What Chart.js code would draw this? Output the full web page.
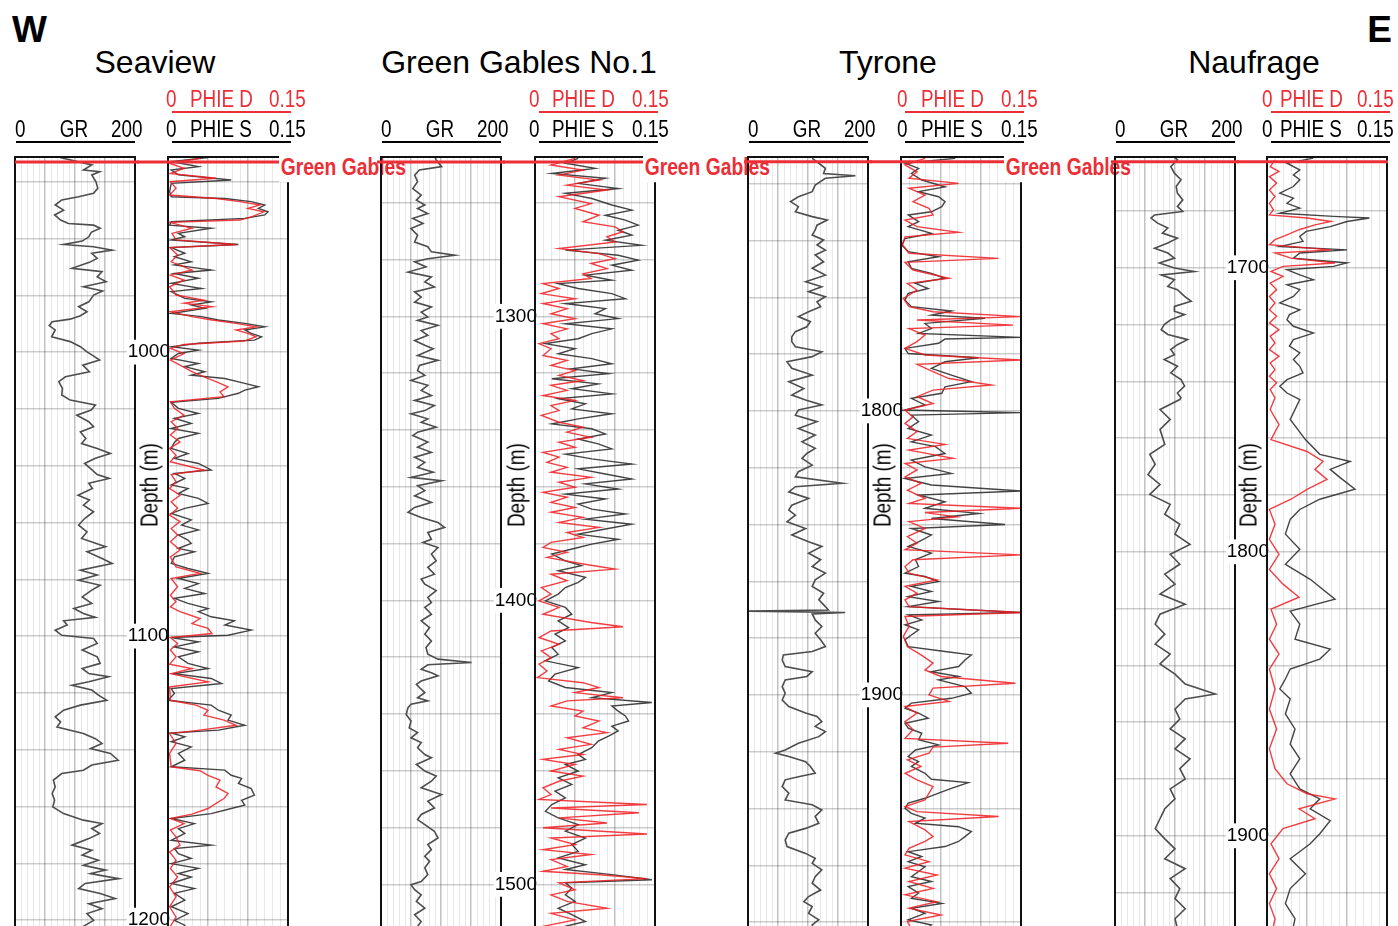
<!DOCTYPE html>
<html>
<head>
<meta charset="utf-8">
<script src="https://cdn.jsdelivr.net/npm/chart.js@4.4.1/dist/chart.umd.min.js"></script>
<style>
  html, body { margin: 0; padding: 0; background: #fff; }
  #page { position: relative; width: 1398px; height: 926px; overflow: hidden; font-family: "Liberation Sans", Arial, sans-serif; }
  #page canvas { position: absolute; }
  .txt { position: absolute; line-height: 1; white-space: nowrap; }
  .rule { position: absolute; height: 2px; }
</style>
</head>
<body>
<div id="page"></div>
<script>
// well names, W -> E
const wellNames = ['Seaview', 'Green Gables No.1', 'Tyrone', 'Naufrage'];
// depth at the top of each track (m) and the visible depth span
const depthTop = [931.3, 1243.9, 1710.6, 1661.0];
const depthSpan = 275.7;
// Green Gables formation top (m) in each well
const greenGablesTop = [933.1, 1245.7, 1712.3, 1662.7];
const formationName = 'Green Gables';

// curve scales + header labels
const grRange = [0, 200];
const phieRange = [0, 0.15];
const grHeader = ['0', 'GR', '200'];
const phieSHeader = ['0', 'PHIE S', '0.15'];
const phieDHeader = ['0', 'PHIE D', '0.15'];

// -------------------- curves: [depth m, value] -------------------- //
const seaviewGR = [[931.5,75],[934.1,128],[935.9,114],[936.5,141],[937.6,128],[940.0,135],[942.3,138],[944.1,131],[945.3,106],[946.4,78],[948.2,67],[950.0,81],[951.7,66],[953.5,76],[954.7,89],[955.3,131],[956.4,142],[957.8,127],[959.4,123],[960.9,112],[962.1,81],[962.9,131],[964.1,162],[965.2,128],[967.0,137],[968.4,124],[970.5,95],[971.7,145],[973.5,137],[975.2,152],[977.0,114],[978.5,146],[979.9,131],[982.3,123],[984.0,106],[985.8,120],[987.2,109],[988.4,92],[989.3,62],[990.7,57],[992.2,67],[994.6,61],[996.3,92],[998.1,109],[999.9,120],[1001.0,128],[1002.8,141],[1004.6,113],[1006.9,124],[1008.7,84],[1010.4,73],[1012.8,79],[1015.1,78],[1016.9,92],[1018.6,134],[1020.4,127],[1022.2,103],[1024.5,123],[1026.3,131],[1028.1,109],[1030.4,118],[1032.2,111],[1033.9,137],[1035.7,159],[1037.4,134],[1039.2,116],[1041.0,126],[1043.1,137],[1044.5,157],[1046.2,123],[1048.0,129],[1050.4,105],[1052.1,124],[1053.9,114],[1056.2,131],[1058.6,116],[1060.9,106],[1063.3,120],[1065.6,111],[1068.5,151],[1070.3,120],[1072.7,145],[1074.4,162],[1076.8,109],[1078.5,137],[1080.3,106],[1082.1,142],[1083.8,128],[1086.2,112],[1088.5,128],[1090.3,98],[1092.0,114],[1093.4,134],[1094.6,81],[1096.1,87],[1097.9,67],[1099.7,78],[1100.8,131],[1102.6,137],[1104.9,112],[1107.3,137],[1109.6,142],[1111.4,112],[1113.2,123],[1114.3,156],[1116.1,123],[1117.3,95],[1119.0,128],[1120.8,139],[1122.6,153],[1124.3,109],[1126.1,81],[1128.4,67],[1130.2,76],[1132.0,70],[1134.3,114],[1136.1,134],[1137.8,145],[1139.6,126],[1141.3,159],[1143.7,172],[1145.4,128],[1147.2,114],[1148.4,78],[1150.7,64],[1153.1,67],[1155.4,62],[1157.8,66],[1160.1,63],[1162.5,81],[1164.8,114],[1166.0,145],[1167.8,128],[1169.5,141],[1171.3,123],[1173.6,95],[1175.4,128],[1177.1,112],[1178.9,139],[1180.7,114],[1182.4,151],[1183.6,126],[1185.4,173],[1187.1,117],[1188.9,106],[1190.6,142],[1192.4,167],[1194.2,123],[1196.0,145],[1197.7,120],[1200.1,131],[1202.2,114],[1207,120]];
const seaviewPhieS = [[931.5,0.050],[932.9,0.004],[934.7,0.038],[935.9,0.004],[937.6,0.013],[939.4,0.079],[940.6,0.004],[943.5,0.002],[945.3,0.004],[945.9,0.071],[947.0,0.104],[948.2,0.121],[949.4,0.113],[950.6,0.125],[951.7,0.121],[952.9,0.096],[954.1,0.004],[955.3,0.002],[956.4,0.054],[958.2,0.013],[959.4,0.021],[960.5,0.004],[962.1,0.088],[963.2,0.004],[965.2,0.021],[966.4,0.008],[968.2,0.029],[969.3,0.008],[971.1,0.054],[972.3,0.008],[974.0,0.038],[975.8,0.004],[977.6,0.042],[978.7,0.004],[981.1,0.021],[982.3,0.054],[983.4,0.029],[984.6,0.046],[986.4,0.004],[987.5,0.042],[988.7,0.063],[989.9,0.096],[991.1,0.121],[992.2,0.096],[993.4,0.104],[994.6,0.117],[995.8,0.108],[996.9,0.038],[998.1,0.004],[999.3,0.038],[1000.5,0.013],[1002.2,0.004],[1004.0,0.038],[1005.1,0.021],[1006.9,0.046],[1008.1,0.029],[1009.3,0.071],[1011.0,0.096],[1012.2,0.113],[1013.4,0.096],[1014.5,0.088],[1016.3,0.063],[1017.7,0.004],[1019.8,0.013],[1021.6,0.038],[1023.3,0.008],[1025.1,0.029],[1026.9,0.004],[1028.6,0.038],[1030.4,0.013],[1031.8,0.008],[1033.9,0.004],[1035.7,0.025],[1037.4,0.008],[1039.2,0.038],[1041.5,0.054],[1042.7,0.008],[1044.5,0.021],[1046.8,0.004],[1048.0,0.025],[1049.8,0.013],[1051.5,0.038],[1053.3,0.050],[1055.0,0.021],[1056.8,0.004],[1059.1,0.029],[1060.9,0.017],[1062.6,0.038],[1064.4,0.013],[1066.2,0.025],[1067.4,0.029],[1069.1,0.013],[1070.3,0.033],[1072.1,0.008],[1074.4,0.004],[1076.2,0.025],[1077.9,0.050],[1079.7,0.013],[1081.5,0.038],[1083.2,0.021],[1085.0,0.046],[1086.7,0.008],[1088.5,0.025],[1090.3,0.050],[1091.4,0.038],[1093.2,0.054],[1094.6,0.083],[1096.1,0.071],[1097.9,0.104],[1099.7,0.075],[1100.5,0.004],[1102.0,0.038],[1103.8,0.008],[1105.5,0.038],[1107.3,0.013],[1109.6,0.025],[1111.4,0.050],[1113.2,0.008],[1114.9,0.054],[1116.7,0.067],[1118.5,0.004],[1120.2,0.008],[1122.6,0.000],[1124.3,0.054],[1126.1,0.063],[1127.8,0.079],[1129.6,0.075],[1131.4,0.096],[1133.1,0.063],[1134.1,0.004],[1135.5,0.021],[1137.2,0.004],[1139.0,0.029],[1141.3,0.013],[1143.7,0.021],[1146.0,0.004],[1147.2,0.071],[1149.0,0.079],[1150.1,0.092],[1151.9,0.088],[1153.7,0.104],[1156.0,0.108],[1157.8,0.092],[1159.5,0.096],[1160.7,0.079],[1162.5,0.054],[1164.2,0.004],[1166.0,0.033],[1167.8,0.013],[1169.5,0.021],[1171.9,0.004],[1173.6,0.054],[1174.8,0.008],[1176.6,0.013],[1178.3,0.029],[1180.1,0.004],[1181.8,0.038],[1183.6,0.013],[1184.8,0.029],[1187.1,0.004],[1188.9,0.033],[1190.6,0.008],[1193.0,0.021],[1195.3,0.004],[1197.7,0.025],[1200.1,0.008],[1201.8,0.021],[1207,0.010]];
const seaviewPhieD = [[931.8,0.04],[933.5,0.002],[935.3,0.02],[937.1,0.003],[938.8,0.06],[940.0,0.003],[942.3,0.01],[944.7,0.002],[945.9,0.06],[947.0,0.09],[948.2,0.115],[949.4,0.10],[950.6,0.12],[952.3,0.105],[953.5,0.09],[954.3,0.002],[956.4,0.03],[958.2,0.005],[960.5,0.01],[962.1,0.085],[963.2,0.002],[965.8,0.012],[968.2,0.004],[971.1,0.03],[972.9,0.003],[974.6,0.02],[977.0,0.002],[979.9,0.01],[981.7,0.045],[982.8,0.02],[984.0,0.055],[985.8,0.003],[987.5,0.03],[988.7,0.055],[989.9,0.085],[991.1,0.11],[992.2,0.085],[993.4,0.10],[994.6,0.11],[996.1,0.095],[997.3,0.02],[998.7,0.003],[1000.5,0.02],[1002.8,0.003],[1004.6,0.015],[1006.9,0.03],[1008.7,0.045],[1010.4,0.06],[1012.2,0.075],[1014.0,0.065],[1015.7,0.07],[1017.5,0.003],[1019.8,0.008],[1022.2,0.02],[1024.5,0.004],[1026.9,0.012],[1029.2,0.003],[1031.6,0.015],[1033.9,0.002],[1036.3,0.01],[1038.6,0.003],[1041.5,0.045],[1043.1,0.004],[1045.6,0.01],[1048.0,0.002],[1050.4,0.015],[1052.7,0.004],[1055.0,0.012],[1057.4,0.002],[1059.7,0.015],[1062.1,0.004],[1064.4,0.012],[1066.8,0.003],[1069.7,0.015],[1072.1,0.003],[1075.6,0.01],[1077.9,0.04],[1079.7,0.004],[1082.6,0.012],[1085.6,0.003],[1087.9,0.01],[1089.7,0.003],[1091.4,0.015],[1093.8,0.04],[1095.6,0.03],[1097.3,0.05],[1099.1,0.055],[1100.5,0.003],[1102.6,0.012],[1104.9,0.003],[1107.3,0.01],[1109.9,0.002],[1111.4,0.03],[1113.2,0.004],[1116.1,0.05],[1117.9,0.002],[1122.6,0.003],[1124.3,0.035],[1126.1,0.05],[1127.8,0.045],[1129.6,0.07],[1131.4,0.085],[1133.1,0.04],[1134.3,0.002],[1137.8,0.01],[1141.3,0.002],[1146.0,0.004],[1147.4,0.04],[1149.0,0.05],[1150.7,0.065],[1153.1,0.06],[1155.4,0.075],[1157.2,0.07],[1158.9,0.06],[1160.7,0.05],[1162.7,0.03],[1164.2,0.003],[1166.0,0.02],[1168.3,0.003],[1170.7,0.01],[1173.6,0.015],[1176.0,0.002],[1178.9,0.01],[1181.8,0.003],[1184.8,0.012],[1188.3,0.002],[1191.8,0.01],[1195.3,0.002],[1198.9,0.01],[1202.2,0.003],[1207,0.005]];

const greenGablesGR = [[1243.9,90],[1245.0,92],[1247.3,101],[1248.5,64],[1250.3,56],[1252.6,61],[1255.0,53],[1257.3,67],[1259.1,59],[1260.8,73],[1262.0,61],[1263.8,78],[1265.5,53],[1267.3,70],[1269.1,50],[1271.4,61],[1273.8,56],[1275.5,78],[1277.3,84],[1278.5,123],[1279.7,78],[1280.8,56],[1282.6,75],[1284.4,45],[1286.1,84],[1287.9,73],[1289.7,89],[1291.4,56],[1293.2,67],[1295.0,56],[1296.7,84],[1298.5,67],[1300.2,78],[1301.4,61],[1303.2,95],[1305.0,67],[1306.7,78],[1308.5,56],[1310.2,73],[1311.4,87],[1313.8,61],[1315.5,95],[1317.3,64],[1319.1,61],[1320.8,73],[1322.6,50],[1324.3,78],[1326.1,67],[1327.9,84],[1329.6,56],[1331.4,89],[1333.2,73],[1334.3,50],[1336.1,78],[1337.3,67],[1339.0,92],[1340.8,61],[1342.0,53],[1344.3,78],[1346.1,61],[1347.9,84],[1349.6,56],[1351.4,73],[1353.2,61],[1354.9,87],[1356.7,50],[1357.9,101],[1359.6,61],[1361.4,73],[1363.2,56],[1365.5,84],[1367.3,56],[1369.0,45],[1370.8,67],[1372.6,95],[1374.3,106],[1376.1,78],[1378.5,84],[1379.6,70],[1381.4,95],[1383.7,84],[1386.1,92],[1388.4,78],[1390.8,89],[1392.5,67],[1394.3,73],[1396.6,92],[1399.0,78],[1400.8,84],[1402.5,73],[1404.9,84],[1407.2,67],[1409.6,81],[1411.9,73],[1414.3,84],[1416.6,75],[1419.0,78],[1420.7,95],[1421.9,151],[1422.7,78],[1424.3,67],[1425.5,84],[1426.6,95],[1428.4,67],[1429.6,59],[1430.7,64],[1432.5,73],[1434.3,61],[1435.4,78],[1436.6,50],[1437.8,45],[1440.2,42],[1442.5,50],[1444.9,47],[1446.6,61],[1448.4,50],[1450.1,67],[1451.9,61],[1454.3,73],[1455.4,84],[1457.8,59],[1460.1,73],[1461.9,92],[1463.7,84],[1466.0,67],[1468.4,101],[1470.7,78],[1473.1,89],[1475.4,67],[1477.2,61],[1479.0,73],[1481.3,89],[1483.7,95],[1486.0,78],[1487.8,84],[1490.1,73],[1491.9,81],[1494.2,73],[1496.6,78],[1499.0,67],[1500.1,50],[1501.9,56],[1503.7,67],[1506.0,59],[1508.4,73],[1510.7,56],[1513.1,67],[1514.8,61],[1520,64]];
const greenGablesPhieS = [[1244.4,0.054],[1246.1,0.038],[1247.9,0.075],[1249.7,0.021],[1251.4,0.088],[1253.2,0.054],[1255.0,0.104],[1256.7,0.038],[1258.5,0.071],[1260.8,0.096],[1262.6,0.121],[1264.4,0.088],[1266.1,0.113],[1267.9,0.129],[1269.7,0.104],[1271.4,0.121],[1273.2,0.088],[1275.0,0.133],[1276.7,0.038],[1278.5,0.104],[1280.2,0.129],[1282.0,0.096],[1283.8,0.121],[1285.5,0.063],[1287.3,0.096],[1288.5,0.029],[1290.2,0.054],[1292.0,0.096],[1293.8,0.113],[1295.5,0.038],[1297.3,0.088],[1299.1,0.075],[1300.8,0.104],[1302.6,0.038],[1304.4,0.096],[1306.1,0.071],[1307.9,0.054],[1309.6,0.013],[1311.4,0.050],[1313.2,0.029],[1314.9,0.071],[1316.7,0.096],[1318.5,0.046],[1320.2,0.092],[1322.0,0.021],[1323.8,0.079],[1325.5,0.046],[1327.3,0.096],[1329.0,0.029],[1330.8,0.063],[1332.6,0.046],[1334.3,0.096],[1336.1,0.054],[1337.9,0.021],[1339.6,0.071],[1341.4,0.088],[1343.2,0.054],[1344.9,0.079],[1346.7,0.096],[1348.5,0.038],[1350.2,0.071],[1352.0,0.121],[1353.7,0.054],[1355.5,0.088],[1357.3,0.121],[1359.0,0.063],[1360.8,0.104],[1362.6,0.038],[1364.3,0.088],[1366.1,0.054],[1367.9,0.071],[1369.6,0.113],[1371.4,0.063],[1373.2,0.121],[1374.9,0.088],[1376.7,0.054],[1378.5,0.104],[1380.2,0.071],[1381.4,0.054],[1383.7,0.021],[1386.1,0.038],[1387.8,0.058],[1389.6,0.029],[1391.9,0.063],[1393.7,0.054],[1395.5,0.038],[1397.8,0.029],[1400.2,0.013],[1402.5,0.038],[1404.9,0.046],[1407.2,0.029],[1409.6,0.042],[1411.9,0.025],[1414.3,0.038],[1416.6,0.021],[1419.0,0.029],[1421.3,0.013],[1423.7,0.054],[1426.0,0.025],[1428.4,0.017],[1430.7,0.038],[1432.5,0.096],[1434.3,0.071],[1436.0,0.146],[1437.2,0.096],[1439.0,0.104],[1440.7,0.113],[1442.5,0.117],[1444.3,0.096],[1446.0,0.104],[1447.8,0.092],[1449.6,0.079],[1451.9,0.071],[1454.3,0.054],[1456.0,0.063],[1457.8,0.038],[1460.1,0.054],[1462.5,0.029],[1464.8,0.046],[1467.2,0.025],[1469.6,0.038],[1471.9,0.021],[1474.3,0.013],[1476.6,0.029],[1479.0,0.054],[1481.3,0.038],[1483.7,0.063],[1486.0,0.046],[1488.4,0.054],[1490.7,0.029],[1493.1,0.063],[1494.8,0.038],[1496.6,0.096],[1498.4,0.146],[1499.5,0.038],[1501.3,0.046],[1503.7,0.038],[1506.0,0.050],[1508.4,0.029],[1510.7,0.046],[1513.1,0.063],[1514.8,0.038],[1520,0.045]];
const greenGablesPhieD = [[1244.4,0.05],[1246.7,0.02],[1248.5,0.06],[1250.3,0.03],[1252.0,0.08],[1253.8,0.04],[1255.5,0.09],[1257.9,0.03],[1260.3,0.07],[1262.0,0.05],[1264.4,0.08],[1266.7,0.06],[1268.5,0.10],[1270.2,0.11],[1272.0,0.09],[1273.8,0.10],[1276.1,0.03],[1277.9,0.08],[1279.7,0.10],[1281.4,0.07],[1283.2,0.09],[1285.0,0.06],[1286.7,0.07],[1288.5,0.01],[1290.2,0.03],[1292.0,0.008],[1293.8,0.05],[1295.5,0.01],[1297.3,0.04],[1299.1,0.02],[1300.8,0.05],[1302.6,0.01],[1304.4,0.04],[1306.1,0.02],[1307.9,0.03],[1309.6,0.005],[1311.4,0.02],[1313.8,0.01],[1315.5,0.04],[1317.3,0.02],[1319.1,0.05],[1320.8,0.03],[1322.6,0.06],[1324.3,0.02],[1326.1,0.04],[1327.9,0.01],[1329.6,0.05],[1331.4,0.02],[1333.2,0.03],[1334.9,0.008],[1337.3,0.03],[1339.0,0.06],[1340.8,0.04],[1342.6,0.07],[1344.3,0.03],[1346.1,0.05],[1347.9,0.01],[1349.6,0.03],[1351.4,0.015],[1353.2,0.04],[1354.9,0.02],[1356.7,0.07],[1358.4,0.03],[1360.2,0.05],[1362.0,0.01],[1363.7,0.04],[1365.5,0.02],[1367.3,0.05],[1369.0,0.02],[1370.8,0.06],[1372.6,0.03],[1374.3,0.08],[1376.1,0.04],[1377.9,0.06],[1379.6,0.02],[1381.4,0.01],[1383.1,0.04],[1384.9,0.015],[1387.2,0.06],[1389.0,0.10],[1390.8,0.02],[1393.1,0.04],[1395.5,0.008],[1397.8,0.02],[1400.2,0.005],[1402.5,0.03],[1404.9,0.01],[1407.8,0.07],[1409.3,0.11],[1410.8,0.02],[1413.1,0.005],[1415.5,0.03],[1417.8,0.008],[1420.2,0.02],[1422.5,0.005],[1424.9,0.015],[1427.2,0.003],[1429.0,0.06],[1430.7,0.08],[1432.5,0.05],[1434.3,0.11],[1435.4,0.04],[1437.2,0.02],[1439.0,0.06],[1440.7,0.05],[1442.5,0.08],[1444.9,0.06],[1446.6,0.09],[1448.4,0.04],[1450.7,0.07],[1452.5,0.03],[1454.3,0.06],[1456.0,0.01],[1457.8,0.05],[1460.1,0.02],[1461.9,0.06],[1463.7,0.03],[1466.0,0.01],[1468.4,0.02],[1470.1,0.005],[1471.9,0.14],[1473.1,0.02],[1474.8,0.13],[1476.6,0.03],[1478.4,0.09],[1480.1,0.01],[1482.3,0.14],[1483.7,0.02],[1486.0,0.05],[1487.8,0.01],[1489.5,0.07],[1491.3,0.02],[1493.7,0.04],[1495.4,0.01],[1496.6,0.08],[1498.0,0.14],[1499.5,0.03],[1501.9,0.05],[1503.7,0.02],[1506.0,0.04],[1508.4,0.09],[1510.2,0.02],[1512.5,0.05],[1514.8,0.01],[1520,0.03]];

const tyroneGR = [[1711.1,107],[1712.8,118],[1714.6,129],[1716.4,126],[1717.2,179],[1718.1,129],[1720.5,112],[1722.8,107],[1724.6,84],[1726.3,71],[1728.1,84],[1729.9,79],[1731.6,107],[1732.8,132],[1734.6,115],[1736.3,112],[1738.1,107],[1739.8,126],[1741.6,115],[1743.4,129],[1745.1,112],[1747.5,126],[1749.8,107],[1752.2,129],[1754.5,96],[1756.3,123],[1758.0,101],[1759.8,129],[1761.6,115],[1763.3,121],[1765.1,101],[1766.8,84],[1768.6,104],[1770.4,98],[1772.1,79],[1773.9,73],[1775.6,73],[1777.4,79],[1779.2,123],[1780.9,107],[1782.7,65],[1785.0,73],[1787.4,107],[1789.7,68],[1792.1,93],[1794.4,73],[1796.2,96],[1797.9,123],[1799.7,84],[1801.5,79],[1803.8,115],[1806.2,84],[1808.5,112],[1810.9,90],[1813.2,112],[1815.0,98],[1816.7,90],[1819.1,107],[1821.4,84],[1823.2,79],[1825.5,157],[1826.7,79],[1828.5,68],[1830.8,101],[1833.2,73],[1834.9,68],[1836.7,79],[1839.0,65],[1841.4,96],[1843.7,73],[1846.1,101],[1847.7,123],[1850.1,101],[1852.4,121],[1854.8,107],[1857.1,129],[1859.5,112],[1861.8,107],[1864.2,126],[1866.5,118],[1868.9,129],[1870.1,134],[1870.5,1],[1871.0,162],[1871.5,107],[1873.6,112],[1875.9,123],[1878.3,112],[1880.6,121],[1883.0,129],[1884.7,107],[1885.9,59],[1887.7,57],[1890.0,62],[1891.8,107],[1893.5,98],[1894.7,62],[1897.1,57],[1899.4,62],[1901.8,57],[1904.1,68],[1906.4,96],[1907.6,115],[1909.4,123],[1911.1,112],[1912.9,129],[1914.7,118],[1917.0,84],[1919.4,62],[1920.5,46],[1921.7,68],[1923.5,96],[1925.2,104],[1927.6,112],[1928.8,84],[1929.9,62],[1932.3,57],[1934.6,68],[1937.0,62],[1938.7,107],[1940.5,123],[1942.8,112],[1945.2,118],[1947.0,96],[1948.7,68],[1951.1,62],[1953.4,65],[1955.8,96],[1957.5,112],[1959.3,107],[1961.6,123],[1964.0,112],[1966.3,107],[1968.7,121],[1971.0,101],[1972.8,93],[1974.5,107],[1976.9,101],[1979.2,118],[1981.0,107],[1986,112]];
const tyronePhieS = [[1711.1,0.068],[1712.8,0.005],[1714.6,0.022],[1716.4,0.013],[1718.7,0.026],[1721.1,0.055],[1722.8,0.022],[1724.6,0.047],[1726.3,0.055],[1728.1,0.051],[1729.9,0.038],[1731.0,0.009],[1733.4,0.022],[1735.1,0.009],[1737.5,0.038],[1739.3,0.005],[1741.6,0.001],[1743.9,0.009],[1745.7,0.047],[1747.5,0.009],[1749.8,0.013],[1751.6,0.038],[1753.3,0.055],[1755.1,0.018],[1756.9,0.034],[1758.6,0.009],[1761.0,0.005],[1763.3,0.013],[1764.8,0.063],[1766.3,0.038],[1767.4,0.105],[1769.2,0.030],[1771.0,0.038],[1772.7,0.022],[1774.1,0.150],[1774.7,0.055],[1776.2,0.047],[1778.0,0.005],[1779.8,0.009],[1781.3,0.097],[1782.7,0.055],[1785.0,0.038],[1787.4,0.063],[1789.7,0.088],[1791.5,0.055],[1793.8,0.051],[1795.6,0.013],[1797.9,0.030],[1799.7,0.005],[1800.6,0.150],[1801.5,0.013],[1803.8,0.022],[1806.2,0.009],[1808.5,0.038],[1810.9,0.013],[1812.6,0.043],[1815.0,0.055],[1817.3,0.013],[1819.7,0.030],[1822.0,0.063],[1823.8,0.005],[1826.1,0.038],[1828.2,0.150],[1829.6,0.022],[1832.0,0.055],[1834.3,0.030],[1836.1,0.097],[1837.9,0.038],[1840.0,0.130],[1841.4,0.013],[1843.7,0.038],[1846.1,0.022],[1847.7,0.009],[1850.1,0.038],[1852.4,0.018],[1854.8,0.022],[1857.1,0.005],[1858.3,0.030],[1860.1,0.047],[1861.8,0.013],[1863.6,0.038],[1865.4,0.009],[1867.1,0.047],[1868.9,0.009],[1871.0,0.150],[1871.8,0.009],[1873.6,0.026],[1875.3,0.005],[1877.1,0.022],[1878.9,0.013],[1880.6,0.005],[1883.0,0.009],[1884.7,0.055],[1885.9,0.088],[1887.7,0.080],[1890.0,0.072],[1891.8,0.038],[1893.5,0.072],[1894.7,0.047],[1897.1,0.080],[1899.4,0.088],[1901.2,0.063],[1902.9,0.013],[1904.7,0.005],[1906.4,0.022],[1908.2,0.034],[1910.0,0.005],[1911.7,0.009],[1913.5,0.026],[1915.8,0.022],[1917.6,0.047],[1919.4,0.018],[1921.7,0.009],[1923.5,0.022],[1925.2,0.013],[1927.6,0.030],[1929.7,0.038],[1930.9,0.084],[1932.9,0.063],[1934.6,0.047],[1936.4,0.030],[1938.1,0.009],[1939.9,0.005],[1941.7,0.013],[1943.4,0.030],[1945.2,0.018],[1946.4,0.072],[1948.1,0.088],[1949.9,0.080],[1951.6,0.072],[1953.4,0.055],[1955.2,0.009],[1956.9,0.026],[1958.7,0.009],[1960.5,0.030],[1962.2,0.022],[1964.0,0.013],[1965.7,0.038],[1967.5,0.009],[1969.8,0.022],[1971.6,0.013],[1973.4,0.051],[1975.1,0.013],[1976.9,0.030],[1979.2,0.009],[1981.0,0.038],[1986,0.015]];
const tyronePhieD = [[1711.1,0.03],[1713.4,0.005],[1715.8,0.02],[1718.1,0.01],[1719.9,0.072],[1721.6,0.01],[1724.0,0.03],[1726.3,0.015],[1728.7,0.035],[1731.0,0.04],[1732.8,0.005],[1735.1,0.02],[1737.1,0.072],[1738.7,0.005],[1741.6,0.002],[1744.5,0.01],[1746.3,0.122],[1747.7,0.005],[1750.4,0.015],[1753.3,0.06],[1755.1,0.008],[1757.5,0.02],[1760.4,0.003],[1763.3,0.01],[1765.1,0.04],[1766.8,0.15],[1768.0,0.02],[1769.8,0.14],[1771.0,0.01],[1773.3,0.03],[1775.6,0.02],[1778.0,0.005],[1780.3,0.03],[1782.1,0.15],[1783.6,0.02],[1786.2,0.04],[1788.6,0.06],[1790.9,0.113],[1792.7,0.04],[1795.0,0.02],[1797.4,0.04],[1799.7,0.005],[1802.1,0.015],[1804.4,0.005],[1807.3,0.02],[1809.7,0.008],[1811.8,0.055],[1813.8,0.01],[1816.7,0.065],[1818.5,0.005],[1820.8,0.02],[1823.2,0.005],[1825.5,0.025],[1827.9,0.008],[1830.8,0.03],[1832.6,0.01],[1834.3,0.15],[1835.8,0.03],[1837.3,0.07],[1839.0,0.01],[1841.4,0.03],[1844.3,0.008],[1846.6,0.02],[1848.9,0.005],[1850.7,0.15],[1852.4,0.015],[1854.8,0.005],[1857.1,0.01],[1859.5,0.045],[1861.8,0.005],[1864.2,0.02],[1866.5,0.005],[1868.9,0.01],[1871.0,0.15],[1872.4,0.005],[1875.9,0.01],[1879.4,0.003],[1883.0,0.008],[1885.9,0.025],[1888.8,0.04],[1891.2,0.03],[1893.5,0.05],[1895.9,0.143],[1897.6,0.04],[1900.0,0.035],[1902.3,0.06],[1904.1,0.005],[1906.4,0.02],[1909.4,0.005],[1912.3,0.015],[1915.3,0.005],[1917.0,0.134],[1918.4,0.04],[1920.5,0.035],[1922.9,0.008],[1925.2,0.025],[1927.6,0.005],[1929.9,0.02],[1932.3,0.04],[1934.6,0.035],[1937.0,0.03],[1939.3,0.005],[1941.1,0.02],[1942.8,0.122],[1944.6,0.01],[1947.5,0.03],[1949.9,0.04],[1951.6,0.03],[1954.0,0.01],[1956.3,0.005],[1958.7,0.035],[1961.0,0.005],[1963.4,0.045],[1965.7,0.01],[1968.1,0.04],[1970.4,0.005],[1972.8,0.045],[1975.1,0.01],[1977.5,0.05],[1979.8,0.008],[1986,0.02]];

const naufrageGR = [[1661.2,100],[1662.0,104],[1664.4,93],[1666.7,99],[1669.0,110],[1671.4,102],[1673.7,104],[1676.1,113],[1678.4,104],[1680.2,113],[1681.4,66],[1682.5,60],[1684.3,71],[1686.0,88],[1687.8,79],[1689.6,104],[1691.3,88],[1693.1,66],[1694.8,88],[1696.6,99],[1698.3,74],[1700.1,99],[1701.3,132],[1702.5,77],[1704.2,99],[1706.6,88],[1707.7,104],[1710.1,116],[1711.8,127],[1713.6,99],[1715.3,99],[1716.5,116],[1718.3,93],[1720.0,82],[1721.8,77],[1723.5,88],[1725.3,121],[1727.1,104],[1728.8,93],[1730.6,99],[1732.3,82],[1734.7,104],[1737.0,93],[1739.4,110],[1741.7,116],[1744.1,104],[1745.8,110],[1746.4,108],[1749.9,75],[1753.4,92],[1756.9,75],[1762.2,83],[1765.7,58],[1769.2,67],[1772.8,55],[1776.3,75],[1779.8,58],[1783.3,92],[1786.8,83],[1790.3,108],[1793.8,100],[1797.4,125],[1800.9,92],[1804.4,108],[1807.9,83],[1811.4,100],[1814.9,75],[1818.5,117],[1822.0,75],[1825.5,67],[1829.0,83],[1832.5,67],[1836.0,92],[1839.5,75],[1843.1,100],[1846.6,117],[1850.1,167],[1851.8,117],[1855.4,100],[1858.9,108],[1862.4,92],[1865.9,117],[1869.4,100],[1872.9,125],[1876.4,108],[1880.0,117],[1883.5,92],[1887.0,100],[1890.5,83],[1894.0,75],[1897.5,67],[1901.1,83],[1904.6,100],[1908.1,83],[1911.6,117],[1915.1,92],[1918.6,108],[1922.1,100],[1925.7,117],[1929.2,100],[1936,108]];
const naufragePhieS = [[1661.4,0.058],[1663.2,0.025],[1665.5,0.041],[1667.3,0.033],[1669.0,0.041],[1671.4,0.033],[1673.7,0.016],[1675.5,0.033],[1677.3,0.025],[1679.0,0.041],[1680.8,0.016],[1681.9,0.083],[1682.5,0.128],[1683.7,0.100],[1685.5,0.079],[1687.2,0.049],[1689.0,0.041],[1690.7,0.045],[1692.5,0.016],[1693.7,0.100],[1694.8,0.041],[1696.6,0.033],[1698.3,0.100],[1699.5,0.083],[1700.7,0.025],[1702.5,0.041],[1704.2,0.058],[1706.0,0.025],[1707.7,0.041],[1710.1,0.033],[1712.4,0.016],[1714.8,0.041],[1716.5,0.028],[1718.3,0.025],[1720.6,0.033],[1723.0,0.058],[1725.3,0.033],[1727.6,0.028],[1730.0,0.041],[1732.3,0.033],[1734.7,0.041],[1737.0,0.045],[1739.4,0.025],[1741.7,0.016],[1744.1,0.025],[1746.4,0.041],[1753.4,0.029],[1760.5,0.048],[1765.7,0.066],[1768.2,0.104],[1771.0,0.079],[1773.8,0.091],[1778.0,0.110],[1781.5,0.066],[1785.1,0.041],[1788.6,0.029],[1793.8,0.023],[1799.1,0.041],[1804.4,0.023],[1809.7,0.054],[1816.7,0.085],[1820.9,0.029],[1825.5,0.041],[1830.8,0.035],[1834.3,0.079],[1837.8,0.066],[1841.3,0.029],[1844.8,0.023],[1848.3,0.016],[1851.8,0.029],[1857.1,0.023],[1862.4,0.035],[1867.7,0.029],[1872.9,0.041],[1878.2,0.029],[1883.5,0.041],[1887.0,0.066],[1890.5,0.054],[1894.7,0.079],[1899.3,0.066],[1902.8,0.054],[1908.1,0.029],[1913.4,0.048],[1918.6,0.029],[1923.9,0.023],[1929.2,0.035],[1936,0.03]];
const naufragePhieD = [[1662.0,0.01],[1664.4,0.004],[1666.1,0.015],[1667.9,0.003],[1670.2,0.012],[1672.6,0.003],[1674.9,0.01],[1677.3,0.003],[1679.6,0.008],[1681.4,0.003],[1682.5,0.05],[1683.7,0.08],[1684.9,0.06],[1686.6,0.04],[1688.4,0.025],[1690.1,0.01],[1691.9,0.003],[1693.7,0.08],[1694.8,0.01],[1696.6,0.03],[1698.3,0.085],[1699.5,0.02],[1701.3,0.005],[1703.0,0.02],[1705.4,0.004],[1707.7,0.012],[1710.1,0.003],[1712.4,0.01],[1714.8,0.003],[1717.1,0.012],[1719.4,0.003],[1721.8,0.015],[1724.1,0.004],[1726.5,0.01],[1728.8,0.003],[1731.2,0.015],[1733.5,0.004],[1735.9,0.01],[1738.2,0.003],[1740.5,0.012],[1742.9,0.004],[1745.8,0.01],[1749.9,0.004],[1755.2,0.015],[1760.5,0.005],[1764.7,0.05],[1768.2,0.07],[1771.0,0.06],[1774.5,0.075],[1778.0,0.05],[1781.5,0.03],[1785.1,0.003],[1790.3,0.01],[1795.6,0.003],[1800.9,0.015],[1806.2,0.003],[1811.4,0.02],[1816.0,0.04],[1820.2,0.005],[1825.5,0.012],[1830.8,0.003],[1836.0,0.015],[1841.3,0.003],[1848.3,0.01],[1855.4,0.003],[1862.4,0.012],[1869.4,0.003],[1876.4,0.01],[1881.7,0.025],[1885.2,0.05],[1887.0,0.085],[1890.5,0.04],[1894.0,0.06],[1897.5,0.02],[1902.8,0.005],[1908.1,0.015],[1913.4,0.003],[1918.6,0.012],[1923.9,0.003],[1929.2,0.01],[1936,0.005]];

const grCurves = [seaviewGR, greenGablesGR, tyroneGR, naufrageGR];
const phieSCurves = [seaviewPhieS, greenGablesPhieS, tyronePhieS, naufragePhieS];
const phieDCurves = [seaviewPhieD, greenGablesPhieD, tyronePhieD, naufragePhieD];

// -------------------- layout (page pixels) -------------------- //
const grLeft = [15, 381, 748, 1115];
const phLeft = [168, 535, 901, 1267];
const titleX = [155, 519, 888, 1254];
const labelX = [279, 643, 1004];
// PHIE header: left "0", start of the curve name, right edge of "0.15" (relative to track)
const phHdrL = [-2, -6, -4, -5];
const phHdrMid = [22, 17, 20, 13];
const phHdrR = [138, 134, 137, 127];
const trackW = 120, trackTop = 157, trackBottom = 940, canvasTop = 138;

const RED = '#ec2f36';
const page = document.getElementById('page');

/// true when the named font is really installed (compares against the fallback width)
function fontAvailable(family) {
	const c = document.createElement('canvas').getContext('2d');
	c.font = '40px monospace';
	const w = c.measureText('1000 PHIE S').width;
	c.font = '40px "' + family + '", monospace';
	return c.measureText('1000 PHIE S').width !== w;
}
const narrowOk = fontAvailable('Liberation Sans Narrow');
const NARROW = narrowOk ? '"Liberation Sans Narrow", "Arial Narrow", sans-serif' : '"Liberation Sans", Arial, sans-serif';
const squeeze = narrowOk ? 1 : 0.82;
const depthFontSize = narrowOk ? 23 : 19;

function textWidth(text, font) {
	const c = document.createElement('canvas').getContext('2d');
	c.font = font;
	return c.measureText(text).width;
}
const depthLabelW = textWidth('1000', depthFontSize + 'px ' + NARROW);

/// absolutely placed text, y is the vertical centre
function addText(text, x, y, o) {
	const d = document.createElement('div');
	d.className = 'txt';
	d.textContent = text;
	d.style.fontSize = o.size + 'px';
	d.style.fontFamily = o.family || NARROW;
	d.style.fontWeight = o.bold ? 'bold' : 'normal';
	d.style.color = o.color || '#000';
	if (o.bg) { d.style.background = o.bg; d.style.padding = '2px 2px'; }
	const sx = o.scale || 1;
	const rot = o.rotate ? ' rotate(' + o.rotate + 'deg)' : '';
	d.style.top = y + 'px';
	if (o.align === 'right') {
		d.style.right = (1398 - x) + 'px';
		d.style.transformOrigin = 'right center';
		d.style.transform = 'translateY(-50%) scaleX(' + sx + ')';
	} else if (o.align === 'center') {
		d.style.left = x + 'px';
		d.style.transformOrigin = 'center center';
		d.style.transform = 'translate(-50%,-50%)' + rot + ' scaleX(' + sx + ')';
	} else {
		d.style.left = x + 'px';
		d.style.transformOrigin = 'left center';
		d.style.transform = 'translateY(-50%) scaleX(' + sx + ')';
	}
	page.appendChild(d);
	return d;
}

function addRule(x0, x1, y, color) {
	const r = document.createElement('div');
	r.className = 'rule';
	r.style.left = x0 + 'px';
	r.style.width = (x1 - x0) + 'px';
	r.style.top = (y - 1) + 'px';
	r.style.background = color;
	page.appendChild(r);
}

// frame round the track + the formation top line running across the gaps
const trackFrame = {
	id: 'trackFrame',
	afterDatasetsDraw(chart, args, opts) {
		const { ctx, chartArea: a } = chart;
		ctx.save();
		ctx.strokeStyle = '#111';
		ctx.lineWidth = 2;
		ctx.strokeRect(a.left, a.top, a.right - a.left, a.bottom - a.top);
		const y = chart.scales.y.getPixelForValue(opts.top);
		ctx.strokeStyle = RED;
		ctx.lineWidth = 3;
		ctx.beginPath();
		ctx.moveTo(a.left - opts.extLeft, y);
		ctx.lineTo(a.right + opts.extRight, y);
		ctx.stroke();
		ctx.restore();
	}
};

function makeCanvas(left, width) {
	const c = document.createElement('canvas');
	c.width = width;
	c.height = trackBottom + 14 - canvasTop;
	c.style.left = left + 'px';
	c.style.top = canvasTop + 'px';
	page.appendChild(c);
	return c;
}

function depthAxis(i) {
	return {
		type: 'linear', reverse: true, min: depthTop[i], max: depthTop[i] + depthSpan,
		border: { display: false },
		ticks: { display: false, stepSize: 20, includeBounds: false },
		grid: { drawTicks: false, color: 'rgba(0,0,0,0.2)', lineWidth: 1.5 }
	};
}

function valueAxis(range, step, isMajor) {
	return {
		type: 'linear', position: 'top', min: range[0], max: range[1],
		border: { display: false },
		ticks: { display: false, stepSize: step, includeBounds: false },
		grid: {
			drawTicks: false,
			color: c => isMajor(c.tick.value) ? 'rgba(0,0,0,0.24)' : 'rgba(0,0,0,0.09)',
			lineWidth: c => isMajor(c.tick.value) ? 1.5 : 1
		}
	};
}

function trackChart(canvas, padding, datasets, scales, frame) {
	return new Chart(canvas, {
		type: 'line',
		data: { datasets: datasets },
		options: {
			responsive: false,
			animation: false,
			devicePixelRatio: 1,
			indexAxis: 'y',
			events: [],
			layout: { padding: padding },
			elements: { point: { radius: 0 }, line: { tension: 0 } },
			plugins: { legend: { display: false }, tooltip: { enabled: false }, trackFrame: frame },
			scales: scales
		},
		plugins: [trackFrame]
	});
}

function toPoints(curve) { return curve.map(p => ({ x: p[1], y: p[0] })); }

// -------------------- build the four wells -------------------- //
for (let i = 0; i < wellNames.length; i++) {
	const padTop = trackTop - canvasTop, padBottom = 14;

	// GR track
	const grExtL = i === 0 ? 0 : 4;
	const grCanvas = makeCanvas(grLeft[i] - 4, trackW + 8);
	trackChart(grCanvas, { left: 4, right: 4, top: padTop, bottom: padBottom }, [{
		data: toPoints(grCurves[i]), borderColor: '#4d4d4d', borderWidth: 1.6
	}], {
		x: valueAxis(grRange, 10, v => v % 50 === 0),
		y: depthAxis(i)
	}, { top: greenGablesTop[i], extLeft: grExtL, extRight: 4 });

	// PHIE track, carries the depth labels on its left edge (mirrored so they are not clipped)
	const padL = 48;
	const extL = phLeft[i] - (grLeft[i] + trackW + 4) + 2;
	const extR = i < wellNames.length - 1 ? grLeft[i + 1] - 4 - (phLeft[i] + trackW) : 1;
	const phCanvas = makeCanvas(phLeft[i] - padL, padL + trackW + extR + 2);
	trackChart(phCanvas, { left: padL, right: extR + 2, top: padTop, bottom: padBottom }, [
		{ data: toPoints(phieDCurves[i]), borderColor: 'rgba(240,28,34,0.85)', borderWidth: 1.4 },
		{ data: toPoints(phieSCurves[i]), borderColor: 'rgba(35,35,35,0.85)', borderWidth: 1.4 }
	], {
		x: valueAxis(phieRange, 0.01, v => Math.round(v * 100) % 5 === 0),
		y: depthAxis(i),
		yDepth: {
			type: 'linear', position: 'left', reverse: true, min: depthTop[i], max: depthTop[i] + depthSpan,
			border: { display: false },
			grid: { display: false, drawTicks: false },
			ticks: {
				stepSize: 100, includeBounds: false, mirror: true, padding: 2 - depthLabelW,
				color: '#000', font: { family: NARROW, size: depthFontSize },
				callback: v => String(v),
				showLabelBackdrop: true, backdropColor: '#fff',
				backdropPadding: { top: 1, bottom: 1, left: 1, right: 0 }
			},
			afterFit: s => { s.width = 0; }
		}
	}, { top: greenGablesTop[i], extLeft: extL, extRight: extR });

	// headers
	addText(wellNames[i], titleX[i], 62, { size: 32, align: 'center', family: '"Liberation Sans", Arial, sans-serif' });
	const g = grLeft[i], p = phLeft[i];
	addText(grHeader[0], g, 129, { size: 23, scale: squeeze });
	addText(grHeader[1], g + 59, 129, { size: 23, align: 'center', scale: squeeze });
	addText(grHeader[2], g + 127, 129, { size: 23, align: 'right', scale: squeeze });
	addRule(g + 1, g + trackW, 142, '#000');

	addText(phieDHeader[0], p + phHdrL[i], 99, { size: 23, color: RED, scale: squeeze });
	addText(phieDHeader[1], p + phHdrMid[i], 99, { size: 23, color: RED, scale: squeeze });
	addText(phieDHeader[2], p + phHdrR[i], 99, { size: 23, color: RED, align: 'right', scale: squeeze });
	addRule(p + 4, p + 123, 112, RED);

	addText(phieSHeader[0], p + phHdrL[i], 129, { size: 23, scale: squeeze });
	addText(phieSHeader[1], p + phHdrMid[i], 129, { size: 23, scale: squeeze });
	addText(phieSHeader[2], p + phHdrR[i], 129, { size: 23, align: 'right', scale: squeeze });
	addRule(p + 4, p + 123, 142, '#000');

	addText('Depth (m)', p - 18, 485, { size: 23, align: 'center', rotate: -90, scale: squeeze });

	if (i < labelX.length) {
		addText(formationName, labelX[i], 168, { size: 23.5, bold: true, color: RED, bg: '#fff', scale: squeeze });
	}
}

addText('W', 12, 29, { size: 37, bold: true, family: '"Liberation Sans", Arial, sans-serif' });
addText('E', 1392, 29, { size: 37, bold: true, align: 'right', family: '"Liberation Sans", Arial, sans-serif' });
</script>
</body>
</html>
